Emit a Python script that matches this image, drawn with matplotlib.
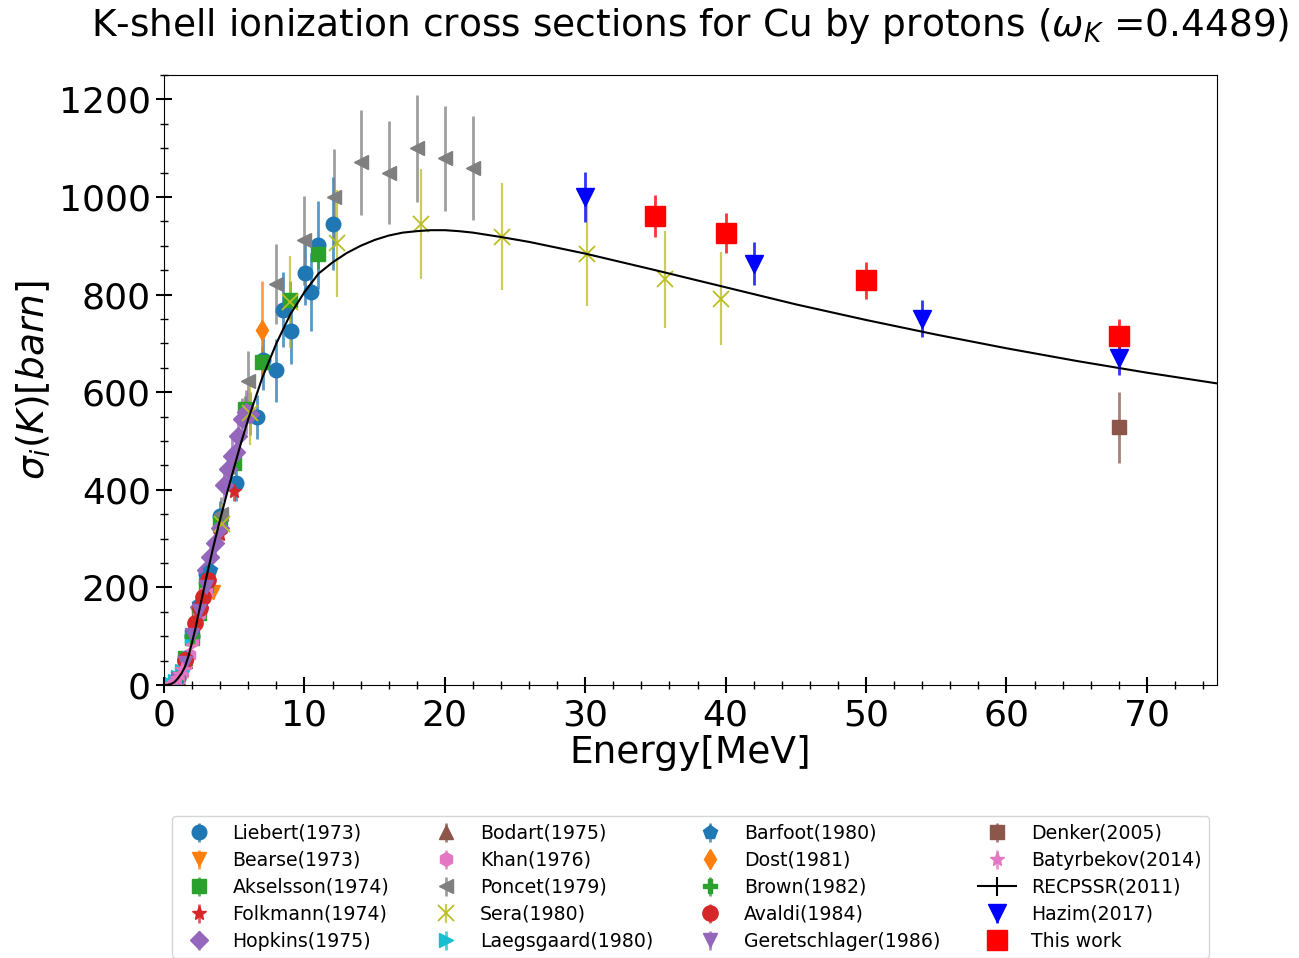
import numpy as np
import matplotlib
matplotlib.use("Agg")
import matplotlib.pyplot as plt
from matplotlib.ticker import MultipleLocator

# ---------------- data ----------------
liebert_E = [1.0, 1.5, 2.0, 2.5, 3.0, 4.0, 5.1, 6.6, 7.05, 8.0, 8.5, 9.05, 10.05, 10.5, 11.0, 12.05]
liebert_s = [15, 52, 100, 160, 228, 346, 414, 549, 665, 645, 769, 726, 844, 805, 901, 945]
liebert_e = [2, 5, 9, 14, 20, 30, 38, 45, 60, 65, 77, 68, 65, 80, 90, 95]

bearse_E = [1.0, 1.5, 2.0, 2.5, 3.0, 3.45]
bearse_s = [13, 47, 96, 148, 178, 190]
bearse_e = [1, 3, 6, 9, 12, 13]

akselsson_E = [1.5, 2.0, 2.5, 3.0, 4.0, 5.0, 5.8, 7.0, 9.0, 11.0]
akselsson_s = [55, 97, 148, 205, 330, 455, 565, 661, 788, 884]
akselsson_e = [3, 5, 7, 10, 16, 23, 28, 33, 39, 31]

folkmann_E = [1.0, 2.0, 3.0, 4.0, 4.95]
folkmann_s = [14, 100, 205, 310, 398]
folkmann_e = [1, 5, 10, 16, 22]

hopkins_E = [2.5, 3.0, 3.3, 3.6, 4.0, 4.25, 4.55, 4.85, 5.1, 5.3, 5.55, 5.85, 6.1]
hopkins_s = [160, 235, 262, 290, 322, 410, 442, 470, 478, 510, 545, 560, 556]
hopkins_e = [12, 18, 21, 23, 26, 33, 35, 38, 38, 41, 44, 45, 44]

bodart_E = [1.0, 1.5, 2.0, 2.5]
bodart_s = [15, 50, 103, 158]
bodart_e = [1, 3, 6, 9]

khan_E = [0.5, 0.75, 1.0, 1.25, 1.5, 1.75, 2.0, 2.5, 3.0]
khan_s = [2, 6, 13, 24, 40, 62, 90, 145, 190]
khan_e = [0.2, 0.5, 1, 2, 3, 4, 6, 10, 13]

poncet_E = [4.05, 6.0, 8.0, 10.0, 12.1, 14.0, 16.0, 18.0, 20.0, 22.0]
poncet_s = [350, 622, 821, 911, 999, 1071, 1050, 1100, 1079, 1059]
poncet_e = [35, 62, 82, 91, 100, 107, 105, 110, 108, 106]

sera_E = [4.1, 6.1, 9.0, 12.3, 18.3, 24.1, 30.1, 35.7, 39.7]
sera_s = [330, 558, 785, 905, 944, 919, 883, 831, 792]
sera_e = [40, 67, 94, 109, 113, 110, 106, 100, 95]

laeg_E = [0.5, 0.75, 1.0, 1.25, 1.5, 2.0]
laeg_s = [3, 8, 16, 28, 48, 100]
laeg_e = [0.3, 0.6, 1, 2, 3, 6]

barfoot_E = [1.0, 1.5, 2.0, 2.5, 3.0, 3.3]
barfoot_s = [16, 55, 108, 165, 222, 236]
barfoot_e = [1, 3, 6, 10, 13, 14]

dost_E = [7.0]
dost_s = [727]
dost_e = [100]

brown_E = [1.0, 1.5, 2.0, 2.5, 3.0]
brown_s = [15, 50, 100, 155, 208]
brown_e = [1, 3, 6, 9, 12]

avaldi_E = [1.5, 2.21, 2.56, 2.8, 3.16]
avaldi_s = [51, 126, 157, 181, 215]
avaldi_e = [3, 6, 8, 9, 11]

geret_E = [1.0, 1.5, 2.0, 2.5, 3.0]
geret_s = [12, 45, 103, 152, 200]
geret_e = [1, 3, 6, 9, 12]

denker_E = [68.0]
denker_s = [528]
denker_e = [73]

batyr_E = [0.5, 0.7, 0.9, 1.1, 1.3]
batyr_s = [2, 6, 14, 22, 32]
batyr_e = [0.2, 0.5, 1, 2, 3]

recpssr_E = [0.1, 0.25, 0.5, 0.75, 1.0, 1.25, 1.5, 1.75, 2.0, 2.25, 2.5, 2.75, 3.0, 3.5,
             4.0, 4.5, 5.0, 5.5, 6.0, 7.0, 8.0, 9.0, 10.0, 11.0, 12.0, 13.0, 14.0, 15.0,
             16.0, 17.0, 18.0, 19.0, 20.0, 21.0, 22.0, 24.0, 26.0, 28.0, 30.0, 35.0, 40.0,
             45.0, 50.0, 55.0, 60.0, 65.0, 70.0, 75.0]
recpssr_s = [0.0, 0.3, 2, 6, 14, 24, 38, 60, 88, 118, 152, 185, 219, 282,
             340, 395, 447, 498, 545, 630, 700, 760, 805, 843, 866, 885, 900, 912,
             921, 927, 930, 932, 932, 930, 927, 918, 908, 896, 884, 850, 815,
             780, 748, 718, 690, 664, 640, 618]

hazim_E = [30.0, 42.0, 54.0, 68.0]
hazim_s = [1000, 863, 751, 671]
hazim_e = [51, 44, 38, 35]

this_E = [35.0, 40.0, 50.0, 68.0]
this_s = [961, 926, 829, 716]
this_e = [43, 41, 38, 34]

# ---------------- plot ----------------
fig = plt.figure(figsize=(12.99, 9.58), dpi=100)
ax = fig.add_axes([0.1263, 0.2850, 0.8106, 0.6367])


def eb(E, s, err, fmt, color, ms, label, elw=2.0, alpha=0.75, **kw):
    c = ax.errorbar(E, s, yerr=err, fmt=fmt, color=color, ms=ms,
                    elinewidth=elw, label=label, **kw)
    for b in c[2]:
        b.set_alpha(alpha)
    return c


eb(liebert_E, liebert_s, liebert_e, 'o', 'C0', 10.5, 'Liebert(1973)')
eb(bearse_E, bearse_s, bearse_e, 'v', 'C1', 10, 'Bearse(1973)')
eb(akselsson_E, akselsson_s, akselsson_e, 's', 'C2', 10.5, 'Akselsson(1974)')
eb(folkmann_E, folkmann_s, folkmann_e, '*', 'C3', 10, 'Folkmann(1974)')
eb(hopkins_E, hopkins_s, hopkins_e, 'D', 'C4', 9.5, 'Hopkins(1975)')
eb(bodart_E, bodart_s, bodart_e, '^', 'C5', 10, 'Bodart(1975)')
eb(khan_E, khan_s, khan_e, 'h', 'C6', 10, 'Khan(1976)')
eb(poncet_E, poncet_s, poncet_e, '<', 'C7', 10.5, 'Poncet(1979)')
eb(sera_E, sera_s, sera_e, 'x', 'C8', 11, 'Sera(1980)', elw=1.6, mew=1.3)
eb(laeg_E, laeg_s, laeg_e, '>', 'C9', 10, 'Laegsgaard(1980)')
eb(barfoot_E, barfoot_s, barfoot_e, 'p', 'C0', 10, 'Barfoot(1980)')
eb(dost_E, dost_s, dost_e, 'd', 'C1', 10, 'Dost(1981)')
eb(brown_E, brown_s, brown_e, 'P', 'C2', 10, 'Brown(1982)')
eb(avaldi_E, avaldi_s, avaldi_e, 'o', 'C3', 11, 'Avaldi(1984)')
eb(geret_E, geret_s, geret_e, 'v', 'C4', 10, 'Geretschlager(1986)')
eb(denker_E, denker_s, denker_e, 's', 'C5', 10, 'Denker(2005)')
eb(batyr_E, batyr_s, batyr_e, '*', 'C6', 10, 'Batyrbekov(2014)')
ax.errorbar(recpssr_E, recpssr_s, yerr=np.zeros(len(recpssr_s)), fmt='-',
            color='k', lw=1.5, label='RECPSSR(2011)')
eb(hazim_E, hazim_s, hazim_e, 'v', 'b', 13, 'Hazim(2017)', alpha=0.8)
eb(this_E, this_s, this_e, 's', 'r', 14, 'This work', alpha=0.8)

ax.set_xlim(0, 75)
ax.set_ylim(0, 1250)
ax.xaxis.set_major_locator(MultipleLocator(10))
ax.xaxis.set_minor_locator(MultipleLocator(2))
ax.yaxis.set_major_locator(MultipleLocator(200))
ax.yaxis.set_minor_locator(MultipleLocator(50))
ax.tick_params(which='major', direction='inout', length=12, width=1.5,
               labelsize=26, top=False, right=False)
ax.tick_params(which='minor', direction='inout', length=6, width=1,
               top=False, right=False)

ax.set_xlabel('Energy[MeV]', fontsize=27, labelpad=2)
ax.set_ylabel(r'$\sigma_i(K)[barn]$', fontsize=27)
ax.set_title(r'K-shell ionization cross sections for Cu by protons ($\omega_K$ =0.4489)',
             fontsize=27, pad=28)

ax.legend(loc='upper center', bbox_to_anchor=(0.5, -0.2), ncol=4,
          fontsize=13.6, frameon=True, labelspacing=0.42)

fig.savefig('out.png', dpi=100)
